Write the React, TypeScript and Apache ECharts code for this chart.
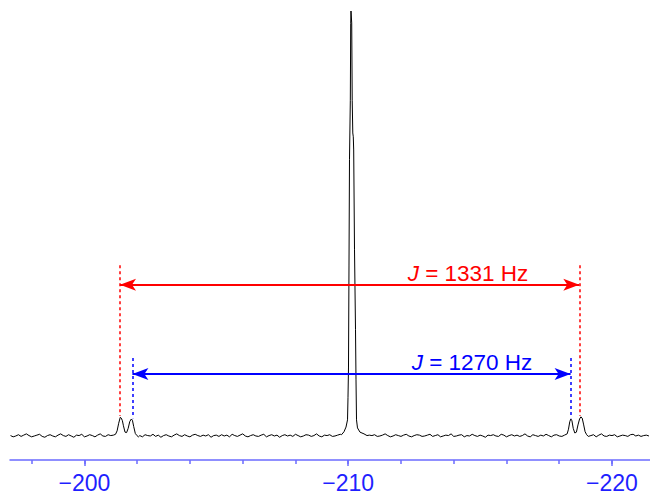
import React, { useEffect, useRef } from 'react';
import * as echarts from 'echarts';

// ---- axis ----
const axisMin = -221.44;
const axisMax = -197.18;
const majorTicks = [-200, -210, -220];
const minorTicks = [-198, -200, -202, -204, -206, -208, -210, -212, -214, -216, -218, -220];

// ---- spectrum: baseline noise sampled every 0.1 ppm from -197.2 ----
const baselineStart = -197.2;
const baselineStep = 0.1;
const baselineNoise = [
  0.1, -0.2, 0.0, 0.3, -0.1, 0.2, 0.5, 0.1, -0.2, 0.0,
  0.2, 0.4, -0.1, -0.3, 0.1, 0.3, 0.0, -0.2, 0.2, 0.5,
  0.1, -0.1, 0.3, 0.0, -0.3, 0.2, 0.1, 0.4, -0.2, 0.0,
  0.3, 0.1, -0.2, 0.2, 0.5, 0.0, -0.1, 0.3, 0.1, -0.3,
  0.0, 0.2, 0.4, -0.1, 0.1, 0.3, -0.2, 0.0, 0.2, 0.1,
  -0.2, 0.3, 0.1, 0.0, 0.4, -0.1, 0.2, -0.3, 0.1, 0.3,
  0.0, -0.2, 0.2, 0.5, 0.1, -0.1, 0.3, 0.0, -0.2, 0.2,
  0.4, 0.1, -0.1, 0.2, 0.0, 0.3, -0.3, 0.1, 0.2, -0.1,
  0.3, 0.0, 0.2, -0.2, 0.4, 0.1, -0.1, 0.2, 0.5, 0.0,
  -0.2, 0.1, 0.3, 0.0, -0.1, 0.2, 0.4, -0.2, 0.1, 0.3,
  0.0, 0.2, -0.3, 0.1, 0.3, 0.0, 0.2, -0.1, 0.4, 0.1,
  -0.2, 0.0, 0.3, 0.2, -0.1, 0.1, 0.5, 0.0, -0.2, 0.2,
  0.1, 0.3, -0.1, 0.0, 0.2, 0.4, -0.2, 0.1, 0.0, 0.3,
  0.2, -0.1, 0.1, 0.4, 0.0, -0.3, 0.2, 0.1, 0.3, -0.1,
  0.0, 0.2, 0.5, 0.1, -0.2, 0.0, 0.3, 0.1, -0.1, 0.2,
  0.4, 0.0, -0.2, 0.1, 0.3, 0.2, -0.1, 0.0, 0.2, 0.4,
  -0.1, 0.1, 0.3, -0.2, 0.0, 0.2, 0.1, 0.5, -0.1, 0.0,
  0.2, 0.3, -0.2, 0.1, 0.0, 0.4, 0.1, -0.1, 0.2, 0.0,
  -0.3, 0.2, 0.1, 0.3, 0.0, -0.1, 0.4, 0.2, -0.2, 0.1,
  0.3, 0.0, 0.2, -0.1, 0.1, 0.5, 0.0, -0.2, 0.3, 0.1,
  -0.1, 0.2, 0.0, 0.4, 0.1, -0.2, 0.2, 0.3, 0.0, -0.1,
  0.2, 0.1, 0.4, -0.1, 0.0, 0.3, 0.1, -0.3, 0.2, 0.0,
  0.1, 0.3, -0.2, 0.2, 0.5, 0.0, -0.1, 0.2, 0.1, 0.3,
  -0.2, 0.0, 0.2, 0.1, -0.1, 0.3, 0.4, 0.0, 0.2, -0.1,
  0.1, 0.2, 0.0,
];

// ---- peaks: [ppm, intensity] ----
const leftSatellites = [
  [-201.10, 0.2], [-201.18, 0.4], [-201.24, 1.2], [-201.30, 3.0], [-201.36, 4.4],
  [-201.40, 4.2], [-201.44, 3.6], [-201.48, 2.4], [-201.54, 0.9], [-201.60, 0.8],
  [-201.66, 1.8], [-201.72, 3.4], [-201.78, 4.0], [-201.82, 3.7], [-201.87, 2.2],
  [-201.93, 0.6], [-201.99, 0.1], [-202.05, -0.2],
];
const mainPeak = [
  [-209.746, 0.3], [-209.841, 1.0], [-209.917, 2.1], [-209.974, 3.8], [-209.992, 9],
  [-210.011, 16], [-210.030, 40], [-210.049, 65], [-210.080, 79], [-210.095, 97],
  [-210.106, 100], [-210.125, 100], [-210.133, 97.2], [-210.152, 79], [-210.174, 71.3],
  [-210.193, 70.4], [-210.208, 67.3], [-210.239, 43.8], [-210.277, 25], [-210.296, 13.2],
  [-210.315, 3.8], [-210.352, 1.9], [-210.447, 0.9], [-210.599, 0.5], [-210.712, 0.1],
];
const rightSatellites = [
  [-218.22, 0.1], [-218.30, 0.5], [-218.35, 1.6], [-218.40, 3.4], [-218.44, 4.0],
  [-218.48, 3.6], [-218.53, 1.8], [-218.59, 0.7], [-218.65, 0.9], [-218.71, 2.6],
  [-218.77, 4.0], [-218.82, 4.5], [-218.87, 4.2], [-218.92, 2.8], [-218.98, 1.0],
  [-219.04, 0.3], [-219.10, -0.1],
];

// ---- couplings ----
const redJ = { text: '1331', from: -201.35, to: -218.76, level: 35.6, dashTop: 40.2, dashBottom: 4.7 };
const blueJ = { text: '1270', from: -201.82, to: -218.43, level: 14.6, dashTop: 18.35, dashBottom: 4.2 };

const RED = '#ff0000';
const BLUE = '#0000ff';
const FONT = '"Liberation Sans", Arial, sans-serif';

function buildSpectrum() {
  const peaks = [leftSatellites, mainPeak, rightSatellites];
  const windows = peaks.map((p) => [p[0][0], p[p.length - 1][0]]);
  const base = baselineNoise
    .map((v, i) => [Math.round((baselineStart - i * baselineStep) * 100) / 100, v])
    .filter(([x]) => !windows.some(([a, b]) => x <= a + 0.01 && x >= b - 0.01));
  return [...base, ...leftSatellites, ...mainPeak, ...rightSatellites].sort((a, b) => b[0] - a[0]);
}

function couplingLines(c: typeof redJ, color: string) {
  const arrow = { color, width: 2, type: 'solid' as const };
  const dash = { color, width: 1.5, type: [3, 3] as any };
  return [
    [
      { coord: [c.from, c.level], symbol: 'arrow', lineStyle: arrow },
      { coord: [c.to, c.level], symbol: 'arrow' },
    ],
    [
      { coord: [c.from, c.dashTop], symbol: 'none', lineStyle: dash },
      { coord: [c.from, c.dashBottom], symbol: 'none' },
    ],
    [
      { coord: [c.to, c.dashTop], symbol: 'none', lineStyle: dash },
      { coord: [c.to, c.dashBottom], symbol: 'none' },
    ],
  ];
}

function jText(value: string, color: string, x: number, y: number) {
  return {
    type: 'text',
    x,
    y,
    silent: true,
    style: {
      text: `{j|J} = ${value} Hz`,
      fill: color,
      fontSize: 22.5,
      fontFamily: FONT,
      align: 'center',
      verticalAlign: 'middle',
      rich: {
        j: { fontStyle: 'italic', fontSize: 22.5, fontFamily: FONT, fill: color },
      },
    },
  };
}

export default function App() {
  const ref = useRef<HTMLDivElement>(null);
  useEffect(() => {
    if (!ref.current) return;
    const chart = echarts.init(ref.current, null, { renderer: 'svg' });
    const commonAxis = {
      type: 'value' as const,
      min: axisMin,
      max: axisMax,
      inverse: true,
      position: 'bottom' as const,
      splitLine: { show: false },
    };
    chart.setOption({
      animation: false,
      backgroundColor: '#ffffff',
      grid: { left: 10, right: 0, top: 11, bottom: 34, containLabel: false },
      xAxis: [
        {
          ...commonAxis,
          axisLine: { show: true, onZero: false, lineStyle: { color: '#6b6bff', width: 1.5 } },
          axisTick: { show: true, length: 6, customValues: majorTicks, lineStyle: { color: '#6b6bff', width: 1.5 } },
          axisLabel: {
            show: true,
            customValues: majorTicks,
            margin: 11,
            color: '#1f1fff',
            fontSize: 23,
            fontFamily: FONT,
            formatter: (v: number) => (v < 0 ? '\u2212' : '') + Math.abs(v),
          },
        },
        {
          ...commonAxis,
          axisLine: { show: false, onZero: false },
          axisTick: { show: true, length: 4, customValues: minorTicks, lineStyle: { color: '#6b6bff', width: 1.5 } },
          axisLabel: { show: false },
        },
      ],
      yAxis: {
        type: 'value',
        min: -5.65,
        max: 100,
        show: false,
      },
      series: [
        {
          type: 'line',
          xAxisIndex: 0,
          data: buildSpectrum(),
          showSymbol: false,
          symbol: 'none',
          silent: true,
          lineStyle: { color: '#000000', width: 1 },
          markLine: {
            silent: true,
            symbol: 'none',
            symbolSize: [9, 16],
            label: { show: false },
            emphasis: { disabled: true },
            data: [...couplingLines(redJ, RED), ...couplingLines(blueJ, BLUE)],
          },
        },
      ],
      graphic: [jText(redJ.text, RED, 468, 273), jText(blueJ.text, BLUE, 472, 362)],
    });
    return () => chart.dispose();
  }, []);
  return (
    <div
      ref={ref}
      style={{ position: 'fixed', left: 0, top: 0, width: 650, height: 494, background: '#fff' }}
    />
  );
}
